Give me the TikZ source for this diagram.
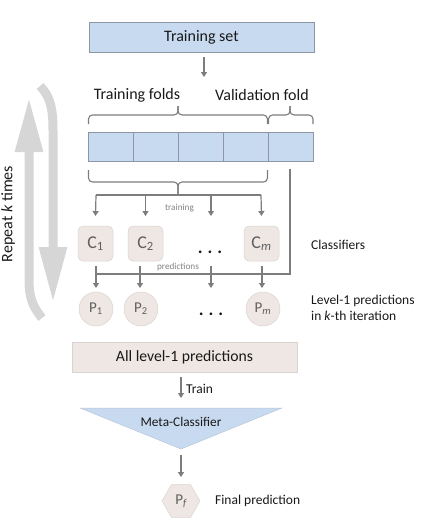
\documentclass[tikz,border=0pt]{standalone}
\usepackage{fontspec}
\setmainfont{Carlito}
\usetikzlibrary{arrows.meta,shapes.geometric,calc}
\definecolor{bluefill}{RGB}{200,218,240}
\definecolor{blueborder}{RGB}{140,150,165}
\definecolor{beige}{RGB}{238,231,228}
\definecolor{beigeborder}{RGB}{218,211,208}
\definecolor{linegray}{RGB}{125,125,125}
\definecolor{txt}{RGB}{25,25,25}
\definecolor{lbl}{RGB}{95,95,95}
\definecolor{small}{RGB}{130,130,130}
\definecolor{bigarrow}{RGB}{214,214,214}
\newcommand{\fs}[1]{\fontsize{#1}{#1}\selectfont}
\tikzset{
  bluebox/.style={draw=blueborder, fill=bluefill, line width=0.9pt, inner sep=0pt, text=txt},
  cbox/.style={fill=beige, draw=beigeborder, line width=0.5pt, rounded corners=5pt, minimum width=35pt, minimum height=35pt, inner sep=0pt, text=lbl, font=\fs{18}},
  pcirc/.style={circle, fill=beige, draw=beigeborder, line width=0.5pt, minimum size=34pt, inner sep=0pt, text=lbl, font=\fs{15}},
  line/.style={draw=linegray, line width=1.2pt},
  conn/.style={line, -{Triangle[width=6pt,length=5pt]}},
  bracestyle/.style={draw=linegray, line width=1.1pt, rounded corners=4pt},
  lab/.style={text=txt, inner sep=0pt},
  bigarr/.style={draw=bigarrow, line width=9pt},
}
\begin{document}
\begin{tikzpicture}[x=1pt,y=-1pt]
\useasboundingbox (0,0) rectangle (441,531);

% Training set
\node[bluebox, minimum width=225pt, minimum height=30pt, font=\fs{16}] (ts) at (201.5,37) {Training set};
\coordinate (tsA) at (204,57);
\coordinate (tsB) at (204,77);
\draw[conn] (tsA) -- (tsB);

\node[lab, font=\fs{16}] (tf) at (137,95) {Training folds};
\node[lab, font=\fs{16}] (vf) at (262,95) {Validation fold};

% folds
\foreach \i/\x in {1/111,2/155.5,3/200.5,4/245.5,5/290.5}
  \node[bluebox, minimum width=45pt, minimum height=29pt] (f\i) at (\x,146.5) {};

% braces above
\coordinate (b1a) at (88.5,124);
\coordinate (b1b) at (267.5,124);
\coordinate (b1t) at (178,106);
\coordinate (b2a) at (268.5,124);
\coordinate (b2b) at (313,124);
\coordinate (b2t) at (290,106);
\draw[bracestyle] (b1a) -- ++(0,-9) -- (b1t |- 0,115) -- (b1t);
\draw[bracestyle] (b1b) -- ++(0,-9) -- (b1t |- 0,115) -- (b1t);
\draw[bracestyle] (b2a) -- ++(0,-9) -- (b2t |- 0,115) -- (b2t);
\draw[bracestyle] (b2b) -- ++(0,-9) -- (b2t |- 0,115) -- (b2t);

% brace below
\coordinate (b3a) at (88.5,170);
\coordinate (b3b) at (267.5,170);
\coordinate (btip) at (178,195);
\draw[bracestyle] (b3a) -- ++(0,12) -- (btip |- 0,182) -- (btip);
\draw[bracestyle] (b3b) -- ++(0,12) -- (btip |- 0,182) -- (btip);

% training distribution line
\coordinate (t1) at (96,195);
\coordinate (t4) at (261,195);
\draw[line] (t1) -- (t4);

% classifiers
\node[cbox] (c1) at (95.5,243.5) {C\textsubscript{1}};
\node[cbox] (c2) at (145.5,243.5) {C\textsubscript{2}};
\node[cbox] (cm) at (261.5,243.5) {C\textsubscript{\itshape m}};
\node[text=txt, font=\fs{18}\bfseries] (cdots) at (210,252) {.\hspace{5pt}.\hspace{5pt}.};
\node[lab, anchor=west, font=\fs{13.5}] (clf) at (311,245) {Classifiers};

\coordinate (t3) at (211,195);
\coordinate (t3e) at (211,216);
\draw[conn] (t1) -- (c1.north |- t3e);
\draw[conn] (c2.north |- t1) -- (c2.north |- t3e);
\draw[conn] (t3) -- (t3e);
\draw[conn] (t4) -- (cm.north |- t3e);
\node[text=small, inner sep=0pt, font=\fs{9.2}] (trl) at (179.5,208.5) {training};

% validation line
\coordinate (v1) at (290,169);
\coordinate (v2) at (290,274);
\coordinate (v3) at (96,274);
\draw[line] (v1) -- (v2) -- (v3);
\node[text=small, inner sep=0pt, font=\fs{9.2}] (prl) at (178,267.5) {predictions};

% level-1 predictions
\node[pcirc] (p1) at (96,309) {P\textsubscript{1}};
\node[pcirc] (p2) at (141,309) {P\textsubscript{2}};
\node[pcirc] (pm) at (263,309) {P\textsubscript{\itshape m}};
\node[text=txt, font=\fs{18}\bfseries] (pdots) at (211,314) {.\hspace{5pt}.\hspace{5pt}.};
\node[lab, anchor=west, align=left, font=\fs{13.5}] (l1) at (311,308) {Level-1 predictions\\[2pt]in \textit{k}-th iteration};

\coordinate (d1) at (96,266);
\coordinate (d2) at (140,266);
\coordinate (d3) at (211,266);
\coordinate (d4) at (262,266);
\coordinate (e3) at (211,288);
\draw[conn] (d1) -- (d1 |- e3);
\draw[conn] (d2) -- (d2 |- e3);
\draw[conn] (d3) -- (e3);
\draw[conn] (d4) -- (d4 |- e3);

% all level-1
\node[fill=beige, draw=beigeborder, line width=0.8pt, minimum width=225pt, minimum height=30pt, inner sep=0pt, text=txt, font=\fs{15.7}] (all) at (184.5,357) {All level-1 predictions};
\coordinate (trA) at (181,377);
\coordinate (trB) at (181,398);
\draw[conn] (trA) -- (trB);
\node[lab, anchor=west, font=\fs{13.5}] (trn) at (186,389) {Train};

% meta classifier triangle
\coordinate (m1) at (80,408);
\coordinate (m2) at (282,408);
\coordinate (m3) at (181,449);
\draw[fill=bluefill, draw=bluefill!80!gray, line width=0.5pt] (m1) -- (m2) -- (m3) -- cycle;
\node[lab, font=\fs{13.3}] (meta) at (181,422) {Meta-Classifier};

\coordinate (fA) at (181,455);
\coordinate (fB) at (181,477);
\draw[conn] (fA) -- (fB);
\node[regular polygon, regular polygon sides=6, minimum size=38pt, inner sep=0pt, fill=beige, draw=beigeborder, line width=0.5pt, text=lbl, font=\fs{15}] (pf) at (181,501) {P\textsubscript{\itshape f}};
\node[lab, anchor=west, font=\fs{13.5}] (fp) at (215,501) {Final prediction};

% repeat arrows
\coordinate (ra1) at (40,86);
\coordinate (ra2) at (53,303);
\draw[bigarr, -{Triangle[width=26pt,length=56pt]}] (ra1) .. controls (50,96) and (53,108) .. (53,130) -- (ra2);
\coordinate (la1) at (42,318);
\coordinate (la2) at (29,97);
\draw[bigarr, -{Triangle[width=26pt,length=55pt]}] (la1) .. controls (32,306) and (29,296) .. (29,280) -- (la2);
\node[rotate=90, lab, font=\fs{16}] (rk) at (8,214) {Repeat \textit{k} times};
\end{tikzpicture}
\end{document}
